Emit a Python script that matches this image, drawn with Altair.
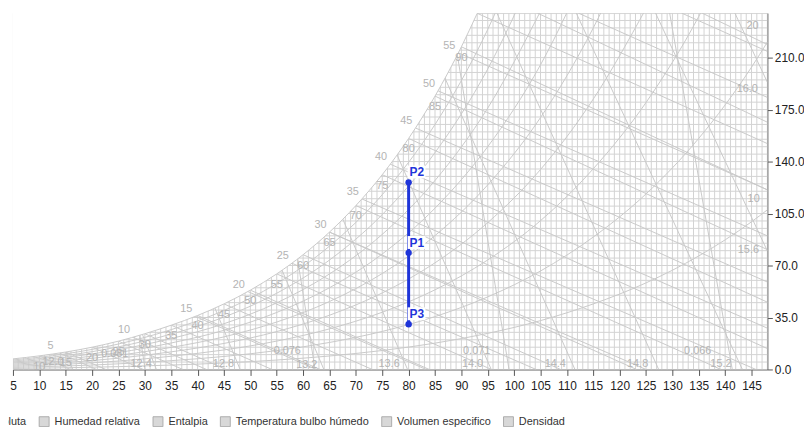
import altair as alt
import pandas as pd

FONT = "Liberation Sans"
LINE_GREY = "#c9c9c9"
GRID_GREY = "#d2d2d2"
LABEL_GREY = "#b4b4b4"
BLUE = "#1f35d9"

# ---------------- axes ----------------
X_MIN, X_MAX = 5, 148
Y_MIN, Y_MAX = 0, 240
X_TICKS = list(range(5, 150, 5))
Y_TICKS = [0, 35, 70, 105, 140, 175, 210]
GRID_T = list(range(5, 149))
GRID_W = list(range(0, 241, 5))

# ---------------- saturation curve (dry bulb F, grains/lb) ----------------
SAT_T = [5, 10, 15, 20, 25, 30, 35, 40, 45, 50, 55, 60, 65, 70, 75, 80, 85, 90, 93]
SAT_W = [7.13, 9.17, 11.74, 15.0, 19.07, 24.07, 29.82, 36.36, 44.16, 53.41, 64.37,
         77.30, 92.49, 110.36, 131.17, 155.57, 184.08, 217.3, 239.8]

# ---------------- relative humidity curves ----------------
RH_T = [5, 15, 25, 35, 45, 55, 65, 75, 85, 95, 105, 115, 125, 135, 145, 148]
RH10 = [0.71, 1.17, 1.90, 2.96, 4.37, 6.35, 9.07, 12.77, 17.73, 24.31, 32.90, 44.14, 58.31, 76.46, 99.46, 107.49]
RH20 = [1.42, 2.34, 3.80, 5.93, 8.76, 12.72, 18.19, 25.62, 35.61, 48.88, 66.30, 89.17, 118.21, 155.65, 203.58, 220.42]
RH30 = [2.14, 3.51, 5.70, 8.90, 13.15, 19.11, 27.34, 38.54, 53.63, 73.75, 100.20, 135.15, 179.76, 237.73, 312.7]
RH40 = [2.85, 4.69, 7.60, 11.88, 17.54, 25.52, 36.53, 51.53, 71.81, 98.89, 134.64, 182.08, 243.03]
RH50 = [3.56, 5.86, 9.51, 14.86, 21.96, 31.95, 45.76, 64.61, 90.14, 124.31, 169.62, 230.0, 308.0]
RH60 = [4.27, 7.03, 11.42, 17.85, 26.38, 38.39, 55.03, 77.76, 108.61, 150.03, 205.14, 278.9]
RH70 = [4.98, 8.20, 13.33, 20.84, 30.81, 44.86, 64.33, 90.99, 127.24, 176.04, 241.22]
RH80 = [5.70, 9.38, 15.24, 23.83, 35.25, 51.34, 73.68, 104.30, 146.03, 202.37, 277.9]
RH90 = [6.41, 10.55, 17.15, 26.83, 39.70, 57.85, 83.06, 117.70, 164.97, 228.99, 315.2]
RH_CURVES = {10: RH10, 20: RH20, 30: RH30, 40: RH40, 50: RH50, 60: RH60, 70: RH70, 80: RH80, 90: RH90}
RH_LBL = ["10", "20"]
RH_LBL_T = [145.4, 145.2]
RH_LBL_W = [114.7, 231.3]

# ---------------- enthalpy lines (Btu/lb) ----------------
ENTH = [5, 10, 15, 20, 25, 30, 35, 40, 45, 50, 55, 60, 65, 70]
ENTH_T1 = [13.8, 27.74, 39.55, 49.5, 57.82, 65.0, 71.09, 76.47, 81.25, 85.55, 89.4, 92.9, 112.15, 131.74]
ENTH_W1 = [11.1, 21.8, 35.8, 52.5, 71.65, 92.49, 114.9, 138.3, 162.7, 187.7, 213.3, 240, 240, 240]
ENTH_T2 = [20.83, 41.67, 62.5, 83.33, 104.17, 125.0, 145.83, 148, 148, 148, 148, 148, 148, 148]
ENTH_W2 = [0, 0, 0, 0, 0, 0, 0, 27.83, 58.9, 89.96, 121.0, 152.1, 183.2, 214.2]
ENTH_LABELLED = 11

# ---------------- wet bulb lines (F) ----------------
WB = [10, 15, 20, 25, 30, 35, 40, 45, 50, 55, 60, 65, 70, 75, 80, 85, 90, 95, 100]
WB_W1 = [9.17, 11.74, 15.0, 19.07, 24.07, 29.82, 36.36, 44.16, 53.41, 64.37, 77.30, 92.49,
         110.36, 131.17, 155.57, 184.08, 217.3, 255.9, 301.0]
WB_T2 = [15.9, 22.6, 29.7, 37.2, 45.4, 54.1, 63.2, 73.1, 83.9, 95.7, 108.8, 123.2, 139.2,
         148, 148, 148, 148, 148, 148]
WB_W2 = [0, 0, 0, 0, 0, 0, 0, 0, 0, 0, 0, 0, 0, 14.09, 45.31, 80.71, 120.9, 166.5, 218.8]
WB_LABELLED = 17

# ---------------- specific volume lines (ft3/lb) ----------------
VOL = ["12.0", "12.4", "12.8", "13.2", "13.6", "14.0", "14.4", "14.8", "15.2", "15.6", "16.0"]
VOL_T1 = [15.05, 29.54, 43.27, 56.0, 67.5, 77.78, 86.86, 96.73, 111.77, 126.80, 141.84]
VOL_W1 = [11.75, 23.6, 41.46, 66.96, 101.45, 144.76, 196.4, 240, 240, 240, 240]
VOL_T2 = [16.33, 32.20, 48.06, 63.93, 79.80, 95.66, 111.53, 127.40, 143.27, 148, 148]
VOL_W2 = [0, 0, 0, 0, 0, 0, 0, 0, 0, 79.8, 193.4]
VOL_LBL_T = [12.6, 29.3, 44.9, 60.7, 76.3, 92.1, 107.8, 123.4, 139.2, 144.4, 144.2]
VOL_LBL_W = [5.0, 4.0, 4.0, 3.0, 3.5, 4.0, 4.0, 4.0, 4.0, 80.7, 188.7]

# ---------------- density lines (lb/ft3) ----------------
DEN = ["0.081", "0.076", "0.071", "0.066"]
DEN_T1 = [29.07, 58.94, 89.22, 129.48]
DEN_W1 = [23.1, 74.56, 212.1, 240]
DEN_T2 = [30.05, 62.27, 99.03, 141.35]
DEN_W2 = [0, 0, 0, 0]
DEN_LBL_T = [24.3, 57.0, 92.9, 134.8]
DEN_LBL_W = [10.7, 12.7, 12.7, 12.7]

# ---------------- process points ----------------
PT_NAMES = ["P2", "P1", "P3"]
PT_T = [80, 80, 80]
PT_W = [126.0, 78.5, 30.5]

LEGEND_NAMES = ["Humedad absoluta", "Humedad relativa", "Entalpia",
                "Temperatura bulbo húmedo", "Volumen especifico", "Densidad"]

# ---------------- shared encodings ----------------
xs = alt.Scale(domain=[X_MIN, X_MAX], nice=False, zero=False)
ys = alt.Scale(domain=[Y_MIN, Y_MAX], nice=False, zero=False)
x_axis = alt.Axis(values=X_TICKS, title=None, grid=False, labelFontSize=12, labelFont=FONT,
                  labelColor="#222222", tickColor="#555555", domainColor="#666666",
                  tickSize=6, labelPadding=5, labelFlush=False)
y_axis = alt.Axis(values=Y_TICKS, orient="right", title=None, grid=False, format=".1f",
                  labelFontSize=12, labelFont=FONT, labelColor="#222222",
                  tickColor="#555555", domainColor="#666666", tickSize=5, labelPadding=2)


def X(f="T"):
    return alt.X(f + ":Q", scale=xs, axis=x_axis)


def Y(f="W"):
    return alt.Y(f + ":Q", scale=ys, axis=y_axis)


def segs(t1, w1, t2, w2):
    return pd.DataFrame({"T": t1, "W": w1, "T2": t2, "W2": w2})


def seg_layer(df, color=LINE_GREY):
    return alt.Chart(df).mark_rule(clip=True, color=color, strokeWidth=1).encode(
        x=X(), y=Y(), x2="T2:Q", y2="W2:Q")


# grid
vgrid = seg_layer(segs(GRID_T, [Y_MIN] * len(GRID_T), GRID_T, [Y_MAX] * len(GRID_T)), GRID_GREY)
hgrid = seg_layer(segs([X_MIN] * len(GRID_W), GRID_W, [X_MAX] * len(GRID_W), GRID_W), GRID_GREY)

# RH curves
rh_rows = []
for lvl, vals in RH_CURVES.items():
    for t, w in zip(RH_T, vals):
        rh_rows.append({"rh": lvl, "T": t, "W": w})
rh_df = pd.DataFrame(rh_rows)
rh_layer = alt.Chart(rh_df).mark_line(clip=True, color=LINE_GREY, strokeWidth=1,
                                      interpolate="monotone").encode(
    x=X(), y=Y(), detail="rh:N", order="T:Q")

enth_layer = seg_layer(segs(ENTH_T1, ENTH_W1, ENTH_T2, ENTH_W2))
wb_layer = seg_layer(segs(WB, WB_W1, WB_T2, WB_W2))
vol_layer = seg_layer(segs(VOL_T1, VOL_W1, VOL_T2, VOL_W2))
den_layer = seg_layer(segs(DEN_T1, DEN_W1, DEN_T2, DEN_W2))

# white mask above saturation
sat_df = pd.DataFrame({"T": SAT_T, "W": SAT_W, "W2": [Y_MAX] * len(SAT_T)})
mask = alt.Chart(sat_df).mark_area(clip=True, color="white", opacity=1,
                                   interpolate="monotone").encode(x=X(), y=Y(), y2="W2:Q")
sat_line = alt.Chart(sat_df).mark_line(clip=True, color=LINE_GREY, strokeWidth=1,
                                       interpolate="monotone").encode(x=X(), y=Y())


def label_layer(ts, ws, txts, dx=0, dy=0):
    df = pd.DataFrame({"T": ts, "W": ws, "txt": txts})
    return alt.Chart(df).mark_text(font=FONT, fontSize=11, color=LABEL_GREY, dx=dx, dy=dy,
                                   align="center", baseline="middle").encode(
        x=X(), y=Y(), text="txt:N")


enth_lbl = label_layer(ENTH_T1[:ENTH_LABELLED], ENTH_W1[:ENTH_LABELLED],
                       [str(h) for h in ENTH[:ENTH_LABELLED]], dx=-9, dy=-7)
wb_lbl = label_layer(WB[:WB_LABELLED], WB_W1[:WB_LABELLED],
                     [str(v) for v in WB[:WB_LABELLED]], dy=11)
vol_lbl = label_layer(VOL_LBL_T, VOL_LBL_W, VOL)
den_lbl = label_layer(DEN_LBL_T, DEN_LBL_W, DEN)
rh_lbl = label_layer(RH_LBL_T, RH_LBL_W, RH_LBL)

# process line + points
pt_df = pd.DataFrame({"name": PT_NAMES, "T": PT_T, "W": PT_W})
proc_line = alt.Chart(pt_df).mark_line(color=BLUE, strokeWidth=3, clip=True).encode(
    x=X(), y=Y(), order=alt.Order("W:Q", sort="descending"))
lbl_bg = alt.Chart(pt_df).mark_rect(color="white", xOffset=-1, x2Offset=17,
                                    yOffset=-17, y2Offset=-4).encode(
    x=X(), y=Y(), x2="T:Q", y2="W:Q")
pts = alt.Chart(pt_df).mark_circle(color=BLUE, size=42, opacity=1).encode(x=X(), y=Y())
pt_lbl = alt.Chart(pt_df).mark_text(color=BLUE, font=FONT, fontSize=12, fontWeight="bold",
                                    align="left", baseline="alphabetic", dx=1, dy=-6).encode(
    x=X(), y=Y(), text="name:N")

# legend carrier (points lie outside the domain and are clipped)
leg_df = pd.DataFrame({"name": LEGEND_NAMES, "T": [-50] * 6, "W": [-50] * 6})
legend_layer = alt.Chart(leg_df).mark_square(clip=True, size=100).encode(
    x=X(), y=Y(),
    color=alt.Color("name:N",
                    scale=alt.Scale(domain=LEGEND_NAMES, range=["#c8c8c8"] * 6),
                    legend=alt.Legend(orient="none", legendX=-95, legendY=407,
                                      direction="horizontal", title=None,
                                      symbolType="square", symbolSize=100,
                                      symbolStrokeColor="#8a8a8a", symbolStrokeWidth=1,
                                      labelFont=FONT, labelFontSize=11, labelColor="#333333",
                                      labelOffset=5, columnPadding=10, padding=0)))

chart = alt.layer(
    vgrid, hgrid, rh_layer, enth_layer, wb_layer, vol_layer, den_layer,
    mask, sat_line,
    enth_lbl, wb_lbl, vol_lbl, den_lbl, rh_lbl,
    proc_line, lbl_bg, pts, pt_lbl, legend_layer,
).properties(
    width=762, height=360,
    autosize=alt.AutoSizeParams(type="none"),
    padding={"left": 5, "top": 3, "right": 37, "bottom": 56},
).configure_view(stroke=None).configure(background="white")

chart.save("out.html", embed_options={"renderer": "svg", "actions": False})
